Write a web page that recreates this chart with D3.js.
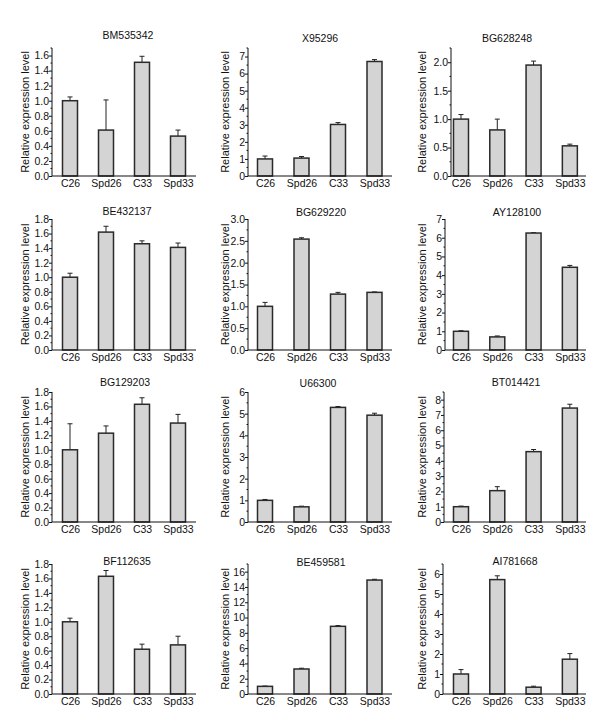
<!DOCTYPE html>
<html><head><meta charset="utf-8">
<script src="https://cdn.jsdelivr.net/npm/d3@7"></script>
<style>body{margin:0;background:#fff}svg{display:block}</style>
</head><body>
<svg id="c" width="608" height="722"></svg>
<script>
// ---------- data ----------
const categories = ["C26", "Spd26", "C33", "Spd33"];
const genes = ["BM535342","X95296","BG628248","BE432137","BG629220","AY128100",
               "BG129203","U66300","BT014421","BF112635","BE459581","AI781668"];

const mean_BM535342 = [1.00, 0.61, 1.51, 0.53], err_BM535342 = [0.05, 0.40, 0.08, 0.08];
const mean_X95296   = [1.00, 1.05, 3.02, 6.71], err_X95296   = [0.17, 0.09, 0.11, 0.11];
const mean_BG628248 = [1.00, 0.81, 1.95, 0.53], err_BG628248 = [0.08, 0.19, 0.07, 0.03];
const mean_BE432137 = [1.00, 1.62, 1.46, 1.41], err_BE432137 = [0.055, 0.08, 0.04, 0.06];
const mean_BG629220 = [1.00, 2.54, 1.28, 1.32], err_BG629220 = [0.09, 0.03, 0.04, 0.01];
const mean_AY128100 = [1.00, 0.70, 6.25, 4.42], err_AY128100 = [0.03, 0.05, 0.02, 0.10];
const mean_BG129203 = [1.00, 1.23, 1.63, 1.37], err_BG129203 = [0.36, 0.10, 0.09, 0.12];
const mean_U66300   = [1.00, 0.70, 5.29, 4.93], err_U66300   = [0.04, 0.03, 0.04, 0.09];
const mean_BT014421 = [1.00, 2.05, 4.60, 7.45], err_BT014421 = [0.04, 0.26, 0.14, 0.25];
const mean_BF112635 = [1.00, 1.63, 0.62, 0.68], err_BF112635 = [0.05, 0.08, 0.07, 0.12];
const mean_BE459581 = [1.00, 3.27, 8.85, 14.9], err_BE459581 = [0.04, 0.10, 0.10, 0.10];
const mean_AI781668 = [1.00, 5.72, 0.34, 1.74], err_AI781668 = [0.22, 0.19, 0.05, 0.28];

const means  = [mean_BM535342, mean_X95296, mean_BG628248, mean_BE432137, mean_BG629220, mean_AY128100,
                mean_BG129203, mean_U66300, mean_BT014421, mean_BF112635, mean_BE459581, mean_AI781668];
const errors = [err_BM535342, err_X95296, err_BG628248, err_BE432137, err_BG629220, err_AY128100,
                err_BG129203, err_U66300, err_BT014421, err_BF112635, err_BE459581, err_AI781668];

// axis maxima, tick steps, decimals
const yMax      = [1.7, 7.5, 2.25, 1.8, 3.0, 7, 1.8, 6, 8.5, 1.8, 17, 6.5];
const yStep     = [0.2, 1, 0.5, 0.2, 0.5, 1, 0.2, 1, 1, 0.2, 2, 1];
const yDecimals = [1, 0, 1, 1, 1, 0, 1, 0, 0, 1, 0, 0];
const yTitle = "Relative expression level";

// ---------- layout ----------
const rowY0   = [176, 350, 522, 694];
const rowTop  = [48, 219, 392, 564];
const colBar  = [[52, 196], [246.75, 392.75], [442.85, 588]];
const colRight = [196, 392, 586];
const colYTitleX = [25, 225, 422];
const axisLeftX = [52, 248, 451, 52, 248, 445, 52, 248, 444, 52, 248, 443];
const titleX = [128, 320, 507, 127, 321, 517, 125, 318, 516, 127, 321, 515];
const titleY = [35, 38, 38, 211, 212, 212, 382, 383, 382, 561, 562, 561];

const FONT = "'Liberation Sans', Arial, Helvetica, sans-serif";
const svg = d3.select("#c");

genes.forEach((g, i) => {
  const r = Math.floor(i / 3), c = i % 3;
  const y0 = rowY0[r], yT = rowTop[r];
  const left = axisLeftX[i], right = colRight[c];
  const x = d3.scalePoint().domain(categories).range(colBar[c]).padding(0.5);
  const y = d3.scaleLinear().domain([0, yMax[i]]).range([y0, yT]);
  const gp = svg.append("g");
  const bw = 15;

  const data = categories.map((k, j) => ({k, v: means[i][j], e: errors[i][j]}));
  // error bars (upper only)
  const eb = gp.append("g").attr("stroke", "#222").attr("stroke-width", 1).attr("fill", "none");
  data.forEach(d => {
    const cx = x(d.k);
    eb.append("line").attr("x1", cx).attr("x2", cx).attr("y1", y(d.v)).attr("y2", y(d.v + d.e));
    eb.append("line").attr("x1", cx - 2.5).attr("x2", cx + 2.5).attr("y1", y(d.v + d.e)).attr("y2", y(d.v + d.e));
  });
  gp.append("g").selectAll("rect").data(data).join("rect")
    .attr("x", d => x(d.k) - bw / 2)
    .attr("width", bw)
    .attr("y", d => y(d.v))
    .attr("height", d => y0 - y(d.v))
    .attr("fill", "#d4d4d4")
    .attr("stroke", "#2a2a2a")
    .attr("stroke-width", 1.5);

  // y axis
  const majors = d3.range(0, yMax[i] + 1e-9, yStep[i]);
  const ya = gp.append("g").attr("transform", `translate(${left},0)`)
    .call(d3.axisLeft(y).tickValues(majors).tickSize(3).tickSizeOuter(0).tickPadding(0)
      .tickFormat(d3.format(`.${yDecimals[i]}f`)));
  ya.select(".domain").remove();
  ya.selectAll("text").attr("font-family", FONT).attr("font-size", "10.5px").attr("fill", "#111");
  ya.selectAll("line").attr("stroke", "#111");
  // minor ticks
  const minors = d3.range(yStep[i] / 2, yMax[i] + 1e-9, yStep[i]);
  gp.append("g").selectAll("line").data(minors).join("line")
    .attr("x1", left - 1.5).attr("x2", left)
    .attr("y1", d => y(d)).attr("y2", d => y(d))
    .attr("stroke", "#111").attr("stroke-width", 1);
  gp.append("line").attr("x1", left).attr("x2", left).attr("y1", y0).attr("y2", yT)
    .attr("stroke", "#111").attr("stroke-width", 1);

  // x axis
  gp.append("line").attr("x1", left).attr("x2", right).attr("y1", y0).attr("y2", y0)
    .attr("stroke", "#111").attr("stroke-width", 1);
  const xa = gp.append("g").attr("transform", `translate(0,${y0})`)
    .call(d3.axisBottom(x).tickSize(0).tickPadding(4));
  xa.select(".domain").remove();
  xa.selectAll("text").attr("font-family", FONT).attr("font-size", "10.5px").attr("fill", "#111");

  // title
  gp.append("text").attr("x", titleX[i]).attr("y", titleY[i])
    .attr("text-anchor", "middle").attr("dominant-baseline", "central")
    .attr("font-family", FONT).attr("font-size", "10.5px").attr("fill", "#111").text(g);

  // y title
  const cy = (y0 + yT) / 2;
  gp.append("text")
    .attr("transform", `translate(${colYTitleX[c]},${cy}) rotate(-90)`)
    .attr("text-anchor", "middle").attr("dominant-baseline", "central")
    .attr("font-family", FONT).attr("font-size", "11px").attr("fill", "#111").text(yTitle);
});
</script>
</body></html>
